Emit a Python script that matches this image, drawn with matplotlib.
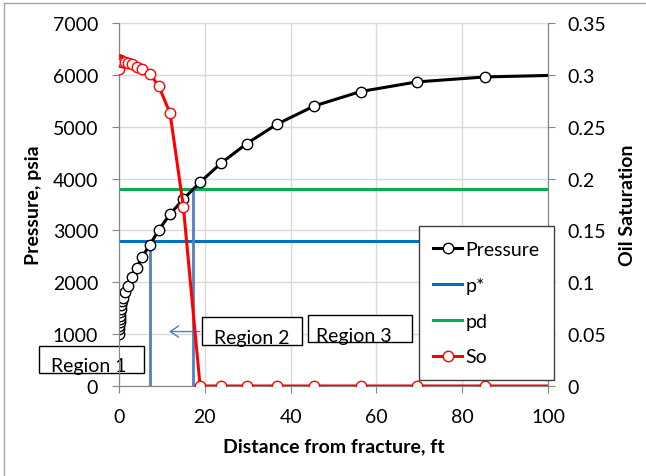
import matplotlib
matplotlib.use("Agg")
import matplotlib.pyplot as plt
from matplotlib.lines import Line2D
from matplotlib.patches import FancyArrowPatch

plt.rcParams['font.family'] = ['Lato', 'DejaVu Sans']

# data
dist_ft = [0, 0.04, 0.08, 0.13, 0.19, 0.26, 0.34, 0.44, 0.56, 0.75, 1.0, 1.4, 2.0,
           3.0, 4.1, 5.4, 7.2, 9.3, 11.9, 15.0, 18.9, 23.8, 29.8, 36.8, 45.5,
           56.3, 69.4, 85.4, 106.0]
pressure = [1000, 1090, 1160, 1225, 1290, 1355, 1420, 1485, 1560, 1630, 1690, 1805,
            1933, 2094, 2274, 2492, 2723, 3012, 3314, 3603, 3930, 4297, 4676, 5048,
            5400, 5678, 5864, 5960, 6000]
so = [0.306, 0.3135, 0.3138, 0.314, 0.314, 0.314, 0.3138, 0.3135, 0.3132, 0.3128,
      0.3125, 0.312, 0.311, 0.310, 0.308, 0.3056, 0.301, 0.289, 0.263, 0.173,
      0, 0, 0, 0, 0, 0, 0, 0, 0]

x_range = [0, 100]
p_star = 2800
p_d = 3800
x_pstar = 7.2     # where pressure reaches p*
x_pd = 17.3       # where pressure reaches pd

fs = 14

fig = plt.figure(figsize=(6.46, 4.77), dpi=100)
ax = fig.add_axes([119/646, 1 - 387/477, 429/646, 363/477])
ax2 = ax.twinx()

blue = '#0070c0'
green = '#00b050'
lblue = '#4f81bd'

# grid
ax.set_axisbelow(True)
ax.grid(True, color='#d9d9d9', lw=1)

ax.plot(x_range, [p_star, p_star], color=blue, lw=2.2, label='p*', zorder=2)
ax.plot(x_range, [p_d, p_d], color=green, lw=2.2, label='pd', zorder=2)
ax.plot([x_pstar, x_pstar], [0, p_star], color=lblue, lw=2, zorder=2)
ax.plot([x_pd, x_pd], [0, p_d], color=lblue, lw=2, zorder=2)
ax.plot(dist_ft, pressure, color='black', lw=2.2, marker='o', ms=7.5,
        mfc='white', mec='black', mew=1, label='Pressure', zorder=3)

ax2.plot(dist_ft, so, color='red', lw=2.2, marker='o', ms=7.5,
         mfc='white', mec='red', mew=1, label='So', zorder=3)

ax.set_xlim(0, 100)
ax.set_ylim(0, 7000)
ax2.set_ylim(0, 0.35)
ax.set_xticks(range(0, 101, 20))
ax.set_yticks(range(0, 7001, 1000))
ax2.set_yticks([0, 0.05, 0.1, 0.15, 0.2, 0.25, 0.3, 0.35])
ax2.set_yticklabels(['0', '0.05', '0.1', '0.15', '0.2', '0.25', '0.3', '0.35'])

for a in (ax, ax2):
    for s in a.spines.values():
        s.set_color('#868686')
    a.spines['top'].set_visible(False)
    a.tick_params(colors='#868686', labelcolor='black', labelsize=fs,
                  length=5, direction='out')
ax.tick_params(axis='y', pad=10)
ax.tick_params(axis='x', pad=11)
ax2.tick_params(axis='y', pad=9)

ax.set_xlabel('Distance from fracture, ft', fontsize=fs, fontweight='bold', labelpad=9)
ax.set_ylabel('Pressure, psia', fontsize=fs, fontweight='bold', labelpad=8)
ax2.set_ylabel('Oil Saturation', fontsize=fs, fontweight='bold', labelpad=9)

# region boxes
ax.add_patch(plt.Rectangle((-18.6, 245), 24.4, 531, fc='white', ec='black', lw=1,
                           clip_on=False, zorder=4))
ax.text(-7, 289, 'Region 1', fontsize=fs, ha='center', va='baseline',
        zorder=5, clip_on=False)
ax.add_patch(plt.Rectangle((19.4, 796), 23.2, 533, fc='white', ec='black', lw=1,
                           zorder=4))
ax.text(30.9, 822, 'Region 2', fontsize=fs, ha='center', va='baseline', zorder=5)
ax.add_patch(plt.Rectangle((44.1, 842), 24.1, 526, fc='white', ec='black', lw=1,
                           zorder=4))
ax.text(54.7, 873, 'Region 3', fontsize=fs, ha='center', va='baseline', zorder=5)

ax.add_patch(FancyArrowPatch((19.5, 1050), (11.0, 1050),
                             arrowstyle='->,head_length=6,head_width=4',
                             color=lblue, lw=1, zorder=3))

# legend
h1, l1 = ax.get_legend_handles_labels()
h2, l2 = ax2.get_legend_handles_labels()
hd = dict(zip(l1 + l2, h1 + h2))
order = ['Pressure', 'p*', 'pd', 'So']
leg = ax2.legend([hd[k] for k in order], order, loc='lower left',
                 bbox_to_anchor=(0.699, 0.0165), borderaxespad=0, fontsize=fs,
                 frameon=True, fancybox=False, framealpha=1, edgecolor='#404040',
                 handlelength=1.45, handletextpad=0.2, borderpad=0.75,
                 labelspacing=0.97)
leg.get_frame().set_linewidth(1)
leg.set_zorder(10)

# outer border (left and top)
fig.add_artist(Line2D([4/646, 4/646], [0, 1 - 4/477], transform=fig.transFigure,
                      color='#a6a6a6', lw=1))
fig.add_artist(Line2D([4/646, 1], [1 - 4/477, 1 - 4/477], transform=fig.transFigure,
                      color='#a6a6a6', lw=1))

fig.savefig('out.png', dpi=100)
